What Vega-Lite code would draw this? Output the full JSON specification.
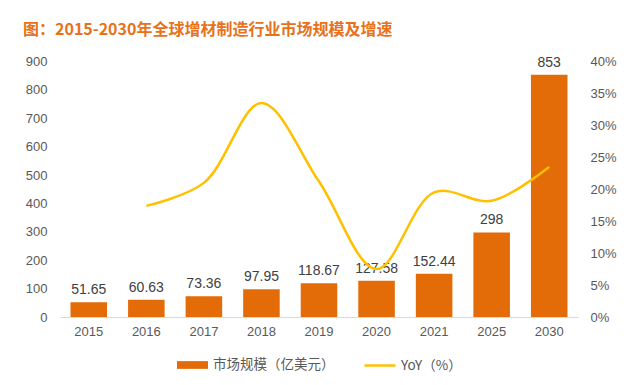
{
  "$schema": "https://vega.github.io/schema/vega-lite/v6.json",
  "autosize": "none",
  "width": 518,
  "height": 255.5,
  "padding": {"left": 60, "top": 61.5, "right": 64, "bottom": 68},
  "background": "#FFFFFF",
  "config": {
    "view": {"stroke": null},
    "font": "Liberation Sans",
    "axis": {"labelFont": "Liberation Sans", "labelColor": "#595959", "labelFontSize": 13, "grid": false, "ticks": false, "title": null}
  },
  "title": {
    "text": "图：2015-2030年全球增材制造行业市场规模及增速",
    "anchor": "start",
    "frame": "group",
    "dx": -37,
    "font": "Noto Sans CJK SC",
    "fontSize": 16,
    "fontWeight": "bold",
    "color": "#E8711A",
    "offset": 18
  },
  "data": {
    "values": [
      {"year": "2015", "value": 51.65, "yoy": null},
      {"year": "2016", "value": 60.63, "yoy": 0.174},
      {"year": "2017", "value": 73.36, "yoy": 0.21},
      {"year": "2018", "value": 97.95, "yoy": 0.335},
      {"year": "2019", "value": 118.67, "yoy": 0.212},
      {"year": "2020", "value": 127.58, "yoy": 0.075},
      {"year": "2021", "value": 152.44, "yoy": 0.195},
      {"year": "2025", "value": 298, "yoy": 0.182},
      {"year": "2030", "value": 853, "yoy": 0.235}
    ]
  },
  "encoding": {
    "x": {
      "field": "year",
      "type": "ordinal",
      "scale": {"paddingInner": 0.365, "paddingOuter": 0.1825},
      "axis": {"labelAngle": 0, "domain": true, "domainColor": "#D9D9D9", "domainWidth": 1, "labelPadding": 8}
    }
  },
  "layer": [
    {
      "encoding": {
        "y": {
          "field": "value",
          "type": "quantitative",
          "scale": {"domain": [0, 900], "nice": false},
          "axis": {"orient": "left", "values": [0, 100, 200, 300, 400, 500, 600, 700, 800, 900], "domain": false, "labelPadding": 13}
        }
      },
      "layer": [
        {
          "mark": {"type": "bar"},
          "encoding": {
            "fill": {
              "datum": "市场规模（亿美元）",
              "type": "nominal",
              "scale": {"range": ["#E36C09"]},
              "legend": {
                "orient": "none",
                "legendX": 116,
                "legendY": 287,
                "title": null,
                "symbolType": "M-1,-0.25H1V0.25H-1Z",
                "symbolSize": 961,
                "labelFont": "Noto Sans CJK SC",
                "labelFontSize": 13.5,
                "labelColor": "#595959",
                "labelOffset": 4
              }
            }
          }
        },
        {
          "mark": {"type": "text", "baseline": "bottom", "dy": -5, "fontSize": 14, "color": "#404040", "font": "Liberation Sans"},
          "encoding": {"text": {"field": "value", "type": "quantitative", "format": ""}}
        }
      ]
    },
    {
      "transform": [{"filter": "datum.yoy != null"}],
      "mark": {"type": "line", "interpolate": "catmull-rom", "strokeWidth": 2.5},
      "encoding": {
        "y": {
          "field": "yoy",
          "type": "quantitative",
          "scale": {"domain": [0, 0.4], "nice": false},
          "axis": {"orient": "right", "format": ".0%", "values": [0, 0.05, 0.1, 0.15, 0.2, 0.25, 0.3, 0.35, 0.4], "domain": false, "labelPadding": 12}
        },
        "stroke": {
          "datum": "YoY（%）",
          "type": "nominal",
          "scale": {"range": ["#FFC000"]},
          "legend": {
            "orient": "none",
            "legendX": 303,
            "legendY": 287,
            "title": null,
            "symbolType": "stroke",
            "symbolSize": 961,
            "symbolStrokeWidth": 2.5,
            "labelFont": "Noto Sans CJK SC",
            "labelFontSize": 13.5,
            "labelColor": "#595959",
            "labelOffset": 4
          }
        }
      }
    }
  ],
  "resolve": {"scale": {"y": "independent"}}
}
